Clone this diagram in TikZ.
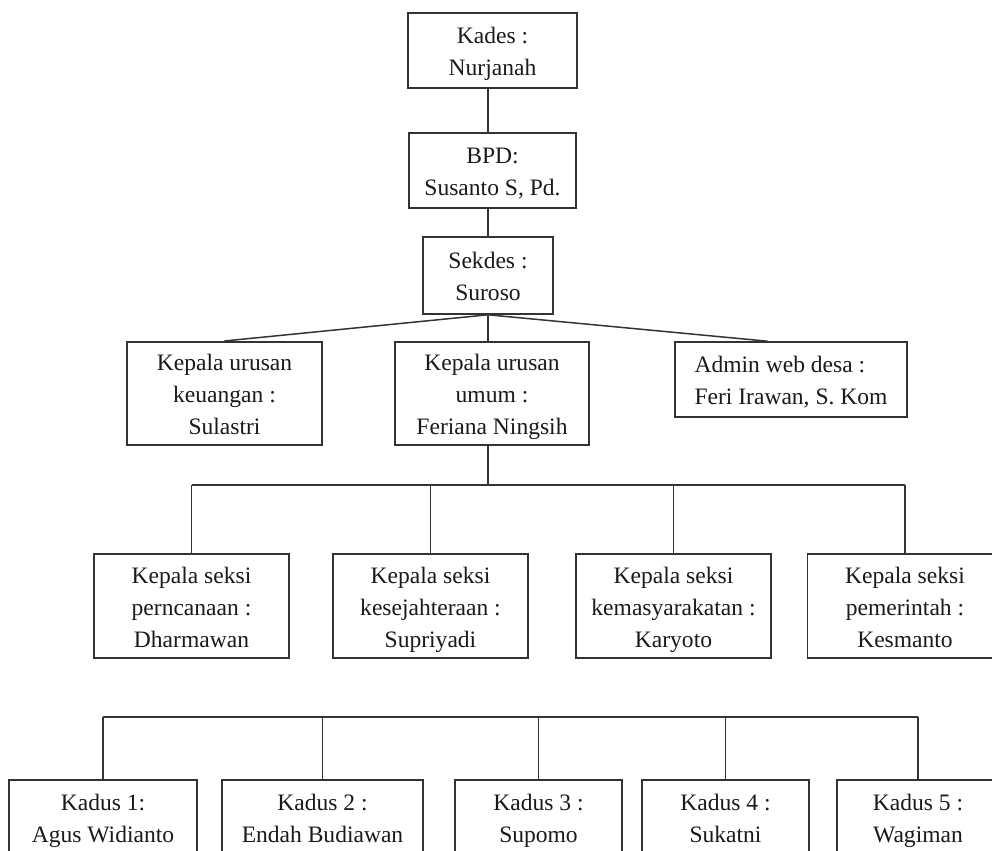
\documentclass[tikz,border=0pt]{standalone}
\usepackage{fontspec}
\setmainfont{Liberation Serif}
\usepackage{xcolor}
\usepackage{tikz}
\usetikzlibrary{calc}
\definecolor{ink}{HTML}{1A1A1A}
\definecolor{frame}{HTML}{333333}
\tikzset{
  unit/.style={draw=frame, line width=0.9pt, fill=white, inner sep=0pt,
    align=center, text=ink, font=\fontsize{13.4}{18.2}\selectfont,
    execute at end node={\rule[-4pt]{0pt}{4pt}}},
  duo/.style={unit, minimum height=1.5cm, execute at begin node={\rule{0pt}{32.5pt}}},
  trio/.style={unit, minimum height=2.07cm, execute at begin node={\rule{0pt}{51pt}}},
  link/.style={draw=frame, line width=0.85pt}
}

\begin{document}
\begin{tikzpicture}[x=0.02cm, y=-0.02cm]
  \useasboundingbox (0,0) rectangle (992,850);

  % top of the chart
  \node[duo, minimum width=3.38cm] (kades) at (492.5,50.5) {Kades :\\Nurjanah};
  \node[duo, minimum width=3.34cm] (bpd) at (492.5,170.5) {BPD:\\Susanto S, Pd.};
  \node[duo, minimum width=2.6cm, minimum height=1.54cm] (sekdes) at (488,275.5) {Sekdes :\\Suroso};

  % kepala urusan and admin
  \node[trio, minimum width=3.9cm] (keu) at (224.5,393.5) {Kepala urusan\\keuangan :\\Sulastri};
  \node[trio, minimum width=3.88cm] (umum) at (492,393.5) {Kepala urusan\\umum :\\Feriana Ningsih};
  \node[duo, align=left, minimum width=4.64cm] (adm) at (791,379.5) {Admin web desa :\\Feri Irawan, S. Kom};

  % kepala seksi
  \node[trio, minimum width=3.9cm] (s1) at (191.5,606) {Kepala seksi\\perncanaan :\\Dharmawan};
  \node[trio, minimum width=3.9cm] (s2) at (430.5,606) {Kepala seksi\\kesejahteraan :\\Supriyadi};
  \node[trio, minimum width=3.9cm] (s3) at (673.5,606) {Kepala seksi\\kemasyarakatan :\\Karyoto};
  \node[trio, minimum width=3.9cm] (s4) at (905,606) {Kepala seksi\\pemerintah :\\Kesmanto};

  % kadus
  \node[duo, minimum width=3.76cm] (k1) at (103,817.5) {Kadus 1:\\Agus Widianto};
  \node[duo, minimum width=4.02cm] (k2) at (322.5,817.5) {Kadus 2 :\\Endah Budiawan};
  \node[duo, minimum width=3.34cm] (k3) at (538.5,817.5) {Kadus 3 :\\Supomo};
  \node[duo, minimum width=3.34cm] (k4) at (725.5,817.5) {Kadus 4 :\\Sukatni};
  \node[duo, minimum width=3.24cm] (k5) at (918,817.5) {Kadus 5 :\\Wagiman};

  \coordinate (sbus) at (0,485);
  \coordinate (kbus) at (0,717);

  % trunk
  \draw[link] (kades.south -| sekdes.south) -- (bpd.north -| sekdes.south);
  \draw[link] (bpd.south -| sekdes.south) -- (sekdes.north);
  \draw[link] (sekdes.south) -- (umum.north -| sekdes.south);
  \draw[link] (sekdes.south) -- (keu.north);
  \draw[link] (sekdes.south) -- ($(adm.north west)!0.4!(adm.north east)$);

  % seksi bus
  \draw[link] (umum.south -| sekdes.south) -- (sbus -| sekdes.south);
  \draw[link] (s1.north |- sbus) -- (s4.north |- sbus);
  \foreach \s in {s1,s2,s3,s4}
    \draw[link] (\s.north |- sbus) -- (\s.north);

  % kadus bus
  \draw[link] (k1.north |- kbus) -- (k5.north |- kbus);
  \foreach \k in {k1,k2,k3,k4,k5}
    \draw[link] (\k.north |- kbus) -- (\k.north);
\end{tikzpicture}
\end{document}
